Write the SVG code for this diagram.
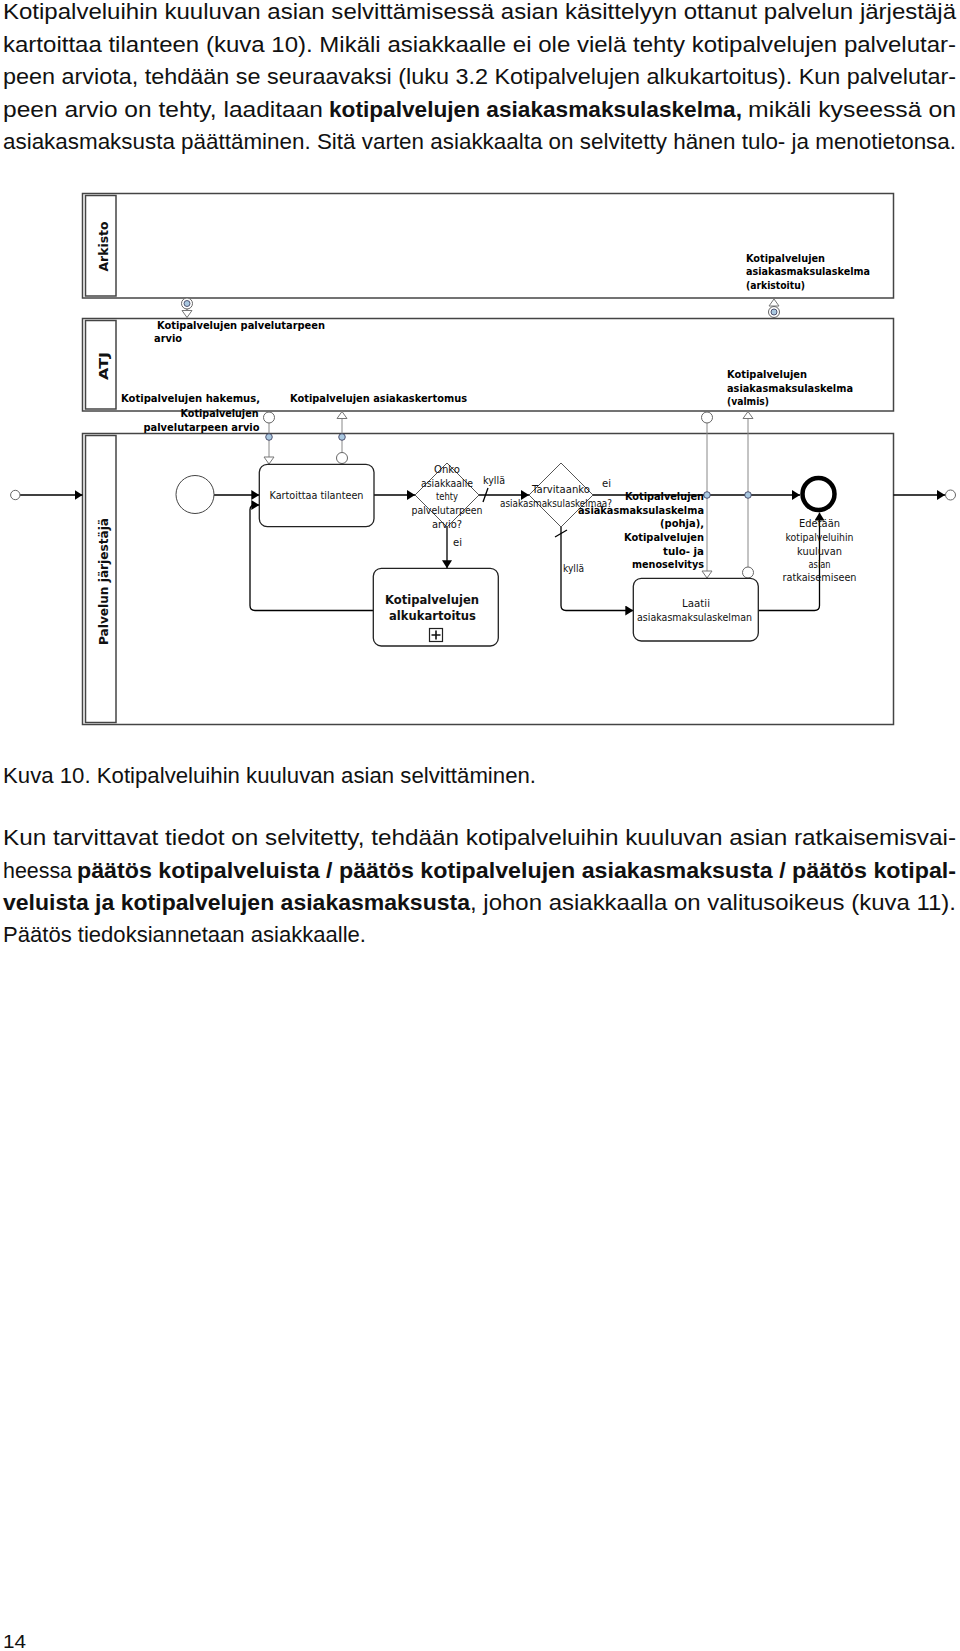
<svg xmlns="http://www.w3.org/2000/svg" width="960" height="1651" viewBox="0 0 960 1651">
<style>
.body{font-family:"Liberation Sans Narrow","Liberation Sans",Arial,sans-serif;font-size:22px;fill:#111}
.b{font-weight:bold}
.lbl{font-family:"DejaVu Sans",Verdana,sans-serif;font-size:10px;fill:#111}
.dl{font-family:"DejaVu Sans",Verdana,sans-serif;font-size:10px;font-weight:bold;fill:#000}
.sub{font-family:"DejaVu Sans",Verdana,sans-serif;font-size:12.5px;font-weight:bold;fill:#111}
.lh{font-family:"DejaVu Sans",Verdana,sans-serif;font-size:13px;font-weight:bold;fill:#111}
.lane{fill:#fff;stroke:#444;stroke-width:1.5}
.hdr{fill:#fff;stroke:#444;stroke-width:1.5}
.task{fill:#fff;stroke:#222;stroke-width:1.3}
.gw{fill:#fff;stroke:#555;stroke-width:1}
.seq{fill:none;stroke:#000;stroke-width:1.3}
.assoc{fill:none;stroke:#888;stroke-width:1}
.dot{fill:#fff;stroke:#666;stroke-width:1}
.ico{fill:#a9c8e0;stroke:#335;stroke-width:0.8}
.c{text-anchor:middle}
.e{text-anchor:end}
</style>
<defs>
<marker id="ah" viewBox="0 0 8 10" refX="8" refY="5" markerWidth="8" markerHeight="10" orient="auto" markerUnits="userSpaceOnUse"><path d="M0,0L8,5L0,10z" fill="#000"/></marker>
<marker id="oa" viewBox="-1 -1 9 12" refX="7" refY="5" markerWidth="9" markerHeight="12" orient="auto" markerUnits="userSpaceOnUse" overflow="visible"><path d="M0,0L7,5L0,10z" fill="#fff" stroke="#777" stroke-width="1"/></marker>
</defs>

<!-- body text -->
<g id="text-top">
<text class="body" x="3" y="19" textLength="953" lengthAdjust="spacingAndGlyphs">Kotipalveluihin kuuluvan asian selvittämisessä asian käsittelyyn ottanut palvelun järjestäjä</text>
<text class="body" x="3" y="51.6" textLength="953" lengthAdjust="spacingAndGlyphs">kartoittaa tilanteen (kuva 10). Mikäli asiakkaalle ei ole vielä tehty kotipalvelujen palvelutar-</text>
<text class="body" x="3" y="84.2" textLength="953" lengthAdjust="spacingAndGlyphs">peen arviota, tehdään se seuraavaksi (luku 3.2 Kotipalvelujen alkukartoitus). Kun palvelutar-</text>
<text class="body" x="3" y="116.8" textLength="320" lengthAdjust="spacingAndGlyphs">peen arvio on tehty, laaditaan</text>
<text class="body b" x="329" y="116.8" textLength="413" lengthAdjust="spacingAndGlyphs">kotipalvelujen asiakasmaksulaskelma,</text>
<text class="body" x="748" y="116.8" textLength="208" lengthAdjust="spacingAndGlyphs">mikäli kyseessä on</text>
<text class="body" x="3" y="149.4" textLength="953" lengthAdjust="spacingAndGlyphs">asiakasmaksusta päättäminen. Sitä varten asiakkaalta on selvitetty hänen tulo- ja menotietonsa.</text>
</g>

<!-- lanes -->
<g id="lane-arkisto">
<rect class="lane" x="82.5" y="193.5" width="811" height="104.5"/>
<rect class="hdr" x="85.5" y="195.5" width="30.5" height="100.5"/>
<text class="lh c" transform="translate(107.5,246.5) rotate(-90)" textLength="50" lengthAdjust="spacingAndGlyphs">Arkisto</text>
</g>
<g id="lane-atj">
<rect class="lane" x="82.5" y="318.5" width="811" height="92.5"/>
<rect class="hdr" x="85.5" y="320.5" width="30.5" height="88.5"/>
<text class="lh c" transform="translate(107.5,366) rotate(-90)" textLength="28" lengthAdjust="spacingAndGlyphs">ATJ</text>
</g>
<g id="lane-palvelun">
<rect class="lane" x="82.5" y="433.5" width="811" height="291"/>
<rect class="hdr" x="85.5" y="435.5" width="30.5" height="287"/>
<text class="lh c" transform="translate(107.5,581.5) rotate(-90)" textLength="127" lengthAdjust="spacingAndGlyphs">Palvelun järjestäjä</text>
</g>

<!-- connectors -->
<g id="connectors">
<path class="seq" d="M20,495H82.5" marker-end="url(#ah)"/>
<path class="seq" d="M893.5,495H945" marker-end="url(#ah)"/>
<path class="seq" d="M214,495H259.3" marker-end="url(#ah)"/>
<path class="seq" d="M374,495H415" marker-end="url(#ah)"/>
<path class="seq" d="M447,527V568.3" marker-end="url(#ah)"/>
<path class="seq" d="M373.3,610.5H255Q250,610.5 250,605.5V510Q250,505 255,505H259.3" marker-end="url(#ah)"/>
<path class="seq" d="M479,495H529" marker-end="url(#ah)"/>
<path class="seq" d="M488,488L483,502"/>
<path class="seq" d="M593,495H800" marker-end="url(#ah)"/>
<path class="seq" d="M561,527V605.5Q561,610.5 566,610.5H633.3" marker-end="url(#ah)"/>
<path class="seq" d="M555,537L567,530"/>
<path class="seq" d="M758.3,610.5H814.5Q819.5,610.5 819.5,605.5V512.5" marker-end="url(#ah)"/>
<!-- associations -->
<path class="assoc" d="M187,298V310"/>
<path class="assoc" d="M187,303V317.5" marker-end="url(#oa)"/>
<path class="assoc" d="M774,318V299" marker-end="url(#oa)"/>
<path class="assoc" d="M269,423V464" marker-end="url(#oa)"/>
<path class="assoc" d="M342,452.5V411.5" marker-end="url(#oa)"/>
<path class="assoc" d="M707,423V578" marker-end="url(#oa)"/>
<path class="assoc" d="M748,567V411.5" marker-end="url(#oa)"/>
</g>

<g id="assoc-ends">
<circle class="dot" cx="15.3" cy="495" r="4.7"/>
<circle class="dot" cx="950.5" cy="495" r="5"/>
<circle class="dot" cx="187" cy="303.5" r="5.5"/>
<circle class="ico" cx="187" cy="303.5" r="3"/>
<circle class="dot" cx="774" cy="312" r="5.5"/>
<circle class="ico" cx="774" cy="312" r="3"/>
<circle class="dot" cx="269" cy="417.5" r="5.5"/>
<circle class="ico" cx="269" cy="437" r="3.3"/>
<circle class="dot" cx="342" cy="458" r="5.5"/>
<circle class="ico" cx="342" cy="437" r="3.3"/>
<circle class="dot" cx="707" cy="417.5" r="5.5"/>
<circle class="ico" cx="707" cy="495" r="3.3"/>
<circle class="dot" cx="748" cy="572.5" r="5.5"/>
<circle class="ico" cx="748" cy="495" r="3.3"/>
</g>

<!-- nodes -->
<g id="start">
<circle cx="195" cy="494.5" r="19" fill="#fff" stroke="#444" stroke-width="1"/>
</g>
<g id="task-kartoittaa">
<rect class="task" x="259.3" y="464.3" width="114.7" height="62.4" rx="8"/>
<text class="lbl c" x="316.5" y="499" textLength="94" lengthAdjust="spacingAndGlyphs">Kartoittaa tilanteen</text>
</g>
<g id="gw-onko">
<polygon class="gw" points="447,463 479,495 447,527 415,495"/>
<text class="lbl c" x="447" y="473" textLength="26" lengthAdjust="spacingAndGlyphs">Onko</text>
<text class="lbl c" x="447" y="486.5" textLength="52" lengthAdjust="spacingAndGlyphs">asiakkaalle</text>
<text class="lbl c" x="447" y="500" textLength="22" lengthAdjust="spacingAndGlyphs">tehty</text>
<text class="lbl c" x="447" y="514" textLength="71" lengthAdjust="spacingAndGlyphs">palvelutarpeen</text>
<text class="lbl c" x="447" y="527.5" textLength="30" lengthAdjust="spacingAndGlyphs">arvio?</text>
</g>
<g id="sub-alkukartoitus">
<rect class="task" x="373.3" y="568.3" width="125" height="77.7" rx="8"/>
<text class="sub c" x="432" y="603.5" textLength="94" lengthAdjust="spacingAndGlyphs">Kotipalvelujen</text>
<text class="sub c" x="432.5" y="620" textLength="87" lengthAdjust="spacingAndGlyphs">alkukartoitus</text>
<rect x="429.5" y="628.5" width="13" height="13" fill="#fff" stroke="#222" stroke-width="1.2"/>
<path d="M436,630.5V639.5M431.5,635H440.5" stroke="#111" stroke-width="1.6"/>
</g>
<g id="gw-tarvitaanko">
<polygon class="gw" points="561,463 593,495 561,527 529,495"/>
<text class="lbl c" x="561" y="493" textLength="58" lengthAdjust="spacingAndGlyphs">Tarvitaanko</text>
<text class="lbl c" x="556" y="506.5" textLength="112" lengthAdjust="spacingAndGlyphs">asiakasmaksulaskelmaa?</text>
</g>
<g id="task-laatii">
<rect class="task" x="633.3" y="578.3" width="125" height="62.7" rx="8"/>
<text class="lbl c" x="696" y="607" textLength="28" lengthAdjust="spacingAndGlyphs">Laatii</text>
<text class="lbl c" x="694.5" y="620.5" textLength="115" lengthAdjust="spacingAndGlyphs">asiakasmaksulaskelman</text>
</g>
<g id="end">
<circle cx="818.5" cy="494" r="16" fill="#fff" stroke="#000" stroke-width="4.5"/>
<text class="lbl c" x="819.5" y="527" textLength="41" lengthAdjust="spacingAndGlyphs">Edetään</text>
<text class="lbl c" x="819.5" y="541" textLength="68" lengthAdjust="spacingAndGlyphs">kotipalveluihin</text>
<text class="lbl c" x="819.5" y="554.5" textLength="45" lengthAdjust="spacingAndGlyphs">kuuluvan</text>
<text class="lbl c" x="819.5" y="568" textLength="22" lengthAdjust="spacingAndGlyphs">asian</text>
<text class="lbl c" x="819.5" y="581" textLength="74" lengthAdjust="spacingAndGlyphs">ratkaisemiseen</text>
</g>

<!-- flow labels -->
<g id="flow-labels">
<text class="lbl" x="453" y="545.5" textLength="9" lengthAdjust="spacingAndGlyphs">ei</text>
<text class="lbl" x="483" y="484" textLength="22" lengthAdjust="spacingAndGlyphs">kyllä</text>
<text class="lbl" x="602" y="486.5" textLength="9" lengthAdjust="spacingAndGlyphs">ei</text>
<text class="lbl" x="563" y="572" textLength="21" lengthAdjust="spacingAndGlyphs">kyllä</text>
</g>

<!-- data labels -->
<g id="data-palvelutarpeen-arvio">
<text class="dl" x="157" y="329" textLength="168" lengthAdjust="spacingAndGlyphs">Kotipalvelujen palvelutarpeen</text>
<text class="dl" x="154" y="342" textLength="28" lengthAdjust="spacingAndGlyphs">arvio</text>
</g>
<g id="data-hakemus">
<text class="dl e" x="260" y="402" textLength="139" lengthAdjust="spacingAndGlyphs">Kotipalvelujen hakemus,</text>
<text class="dl e" x="258.5" y="416.5" textLength="78" lengthAdjust="spacingAndGlyphs">Kotipalvelujen</text>
<text class="dl e" x="259.5" y="430.5" textLength="116" lengthAdjust="spacingAndGlyphs">palvelutarpeen arvio</text>
</g>
<g id="data-asiakaskertomus">
<text class="dl" x="290" y="402" textLength="177" lengthAdjust="spacingAndGlyphs">Kotipalvelujen asiakaskertomus</text>
</g>
<g id="data-arkistoitu">
<text class="dl" x="746" y="261.5" textLength="79" lengthAdjust="spacingAndGlyphs">Kotipalvelujen</text>
<text class="dl" x="746" y="275" textLength="124" lengthAdjust="spacingAndGlyphs">asiakasmaksulaskelma</text>
<text class="dl" x="746" y="288.5" textLength="59" lengthAdjust="spacingAndGlyphs">(arkistoitu)</text>
</g>
<g id="data-valmis">
<text class="dl" x="727" y="378" textLength="80" lengthAdjust="spacingAndGlyphs">Kotipalvelujen</text>
<text class="dl" x="727" y="391.5" textLength="126" lengthAdjust="spacingAndGlyphs">asiakasmaksulaskelma</text>
<text class="dl" x="727" y="405" textLength="42" lengthAdjust="spacingAndGlyphs">(valmis)</text>
</g>
<g id="data-pohja">
<text class="dl e" x="704" y="500" textLength="79" lengthAdjust="spacingAndGlyphs">Kotipalvelujen</text>
<text class="dl e" x="704" y="513.5" textLength="126" lengthAdjust="spacingAndGlyphs">asiakasmaksulaskelma</text>
<text class="dl e" x="704" y="527" textLength="44" lengthAdjust="spacingAndGlyphs">(pohja),</text>
<text class="dl e" x="704" y="541" textLength="80" lengthAdjust="spacingAndGlyphs">Kotipalvelujen</text>
<text class="dl e" x="704" y="554.5" textLength="41" lengthAdjust="spacingAndGlyphs">tulo- ja</text>
<text class="dl e" x="704" y="568" textLength="72" lengthAdjust="spacingAndGlyphs">menoselvitys</text>
</g>

<!-- caption and second paragraph -->
<g id="text-bottom">
<text class="body" x="3" y="783" textLength="533" lengthAdjust="spacingAndGlyphs">Kuva 10. Kotipalveluihin kuuluvan asian selvittäminen.</text>
<text class="body" x="3" y="845" textLength="953" lengthAdjust="spacingAndGlyphs">Kun tarvittavat tiedot on selvitetty, tehdään kotipalveluihin kuuluvan asian ratkaisemisvai-</text>
<text class="body" x="3" y="877.5" textLength="69" lengthAdjust="spacingAndGlyphs">heessa</text>
<text class="body b" x="77" y="877.5" textLength="879" lengthAdjust="spacingAndGlyphs">päätös kotipalveluista /  päätös kotipalvelujen asiakasmaksusta /  päätös kotipal-</text>
<text class="body b" x="3" y="910" textLength="467" lengthAdjust="spacingAndGlyphs">veluista ja kotipalvelujen asiakasmaksusta</text>
<text class="body" x="470" y="910" textLength="486" lengthAdjust="spacingAndGlyphs">, johon asiakkaalla on valitusoikeus (kuva 11).</text>
<text class="body" x="3" y="942" textLength="363" lengthAdjust="spacingAndGlyphs">Päätös tiedoksiannetaan asiakkaalle.</text>
<text x="3" y="1648" font-family="Liberation Sans,Arial,sans-serif" font-size="19" fill="#111" textLength="23" lengthAdjust="spacingAndGlyphs">14</text>
</g>
</svg>
